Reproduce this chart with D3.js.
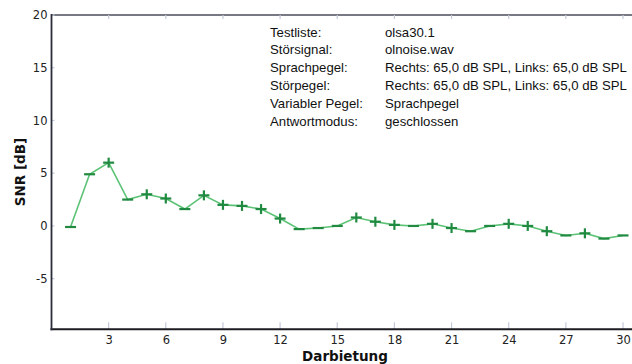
<!DOCTYPE html>
<html><head><meta charset="utf-8">
<script src="https://cdn.jsdelivr.net/npm/d3@7"></script>
<style>
html,body{margin:0;padding:0;background:#fff;}
svg{display:block;}
</style></head>
<body>
<script>
// Data
const trials = d3.range(1, 31);
const snr = [-0.1, 4.9, 6.0, 2.5, 3.0, 2.6, 1.6, 2.9, 2.0, 1.9,
             1.6, 0.7, -0.3, -0.2, 0.0, 0.8, 0.4, 0.1, 0.0, 0.2,
             -0.2, -0.5, 0.0, 0.2, 0.0, -0.5, -0.9, -0.7, -1.2, -0.9];
const marks = ["-","-","+","-","+","+","-","+","+","+",
               "+","+","-","-","-","+","+","+","-","+",
               "+","-","-","+","+","+","-","+","-","-"];
const xTicks = [3, 6, 9, 12, 15, 18, 21, 24, 27, 30];
const yTicks = [-5, 0, 5, 10, 15, 20];
const infoLabels = ["Testliste:", "Störsignal:", "Sprachpegel:", "Störpegel:", "Variabler Pegel:", "Antwortmodus:"];
const infoValues = ["olsa30.1", "olnoise.wav", "Rechts: 65,0 dB SPL, Links: 65,0 dB SPL",
                    "Rechts: 65,0 dB SPL, Links: 65,0 dB SPL", "Sprachpegel", "geschlossen"];
const xLabel = "Darbietung";
const yLabel = "SNR [dB]";

const W = 632, H = 364;
const svg = d3.select("body").append("svg").attr("width", W).attr("height", H);

const x = d3.scaleLinear().domain([0, 30]).range([51.5, 623]);
const y = d3.scaleLinear().domain([-9.8, 20]).range([329.3, 15]);

const tickFont = "DejaVu Sans, Verdana, sans-serif";
const fmt = d => String(d);

// top frame line
svg.append("line").attr("x1", x(0)).attr("x2", W + 5).attr("y1", y(20)).attr("y2", y(20))
  .attr("stroke", "#4a4e5a").attr("stroke-width", 1.6);
svg.selectAll(".tt").data(xTicks).enter().append("line")
  .attr("x1", d => x(d)).attr("x2", d => x(d)).attr("y1", y(20)).attr("y2", y(20) + 4)
  .attr("stroke", "#c4cadb").attr("stroke-width", 1.2);

// bottom axis
const xAxis = d3.axisBottom(x).tickValues(xTicks).tickFormat(fmt).tickSize(0).tickPadding(7);
const gx = svg.append("g").attr("transform", `translate(0,${y(-9.8)})`).call(xAxis);
gx.select(".domain").remove();
gx.selectAll("text").attr("font-family", tickFont).attr("font-size", 11.5).attr("fill", "#222");
svg.selectAll(".bt").data(xTicks).enter().append("line")
  .attr("x1", d => x(d)).attr("x2", d => x(d)).attr("y1", y(-9.8) - 7).attr("y2", y(-9.8))
  .attr("stroke", "#c4cadb").attr("stroke-width", 1.2);
svg.append("line").attr("x1", x(0) - 1).attr("x2", W + 5).attr("y1", y(-9.8)).attr("y2", y(-9.8))
  .attr("stroke", "#1c1c22").attr("stroke-width", 2);

// left axis
const yAxis = d3.axisLeft(y).tickValues(yTicks).tickFormat(fmt).tickSize(0).tickPadding(4);
const gy = svg.append("g").attr("transform", `translate(${x(0)},0)`).call(yAxis);
gy.select(".domain").remove();
gy.selectAll("text").attr("font-family", tickFont).attr("font-size", 11.5).attr("fill", "#222");
svg.selectAll(".lt").data(yTicks).enter().append("line")
  .attr("x1", x(0)).attr("x2", x(0) + 3).attr("y1", d => y(d)).attr("y2", d => y(d))
  .attr("stroke", "#c4cadb").attr("stroke-width", 1.2);
svg.append("line").attr("x1", x(0)).attr("x2", x(0)).attr("y1", y(20) - 1).attr("y2", y(-9.8) + 1)
  .attr("stroke", "#2a2e3a").attr("stroke-width", 1.8);

// axis labels
svg.append("text").attr("x", 345).attr("y", 361).attr("text-anchor", "middle")
  .attr("font-family", tickFont).attr("font-weight", "bold").attr("font-size", 13.5)
  .attr("fill", "#111").text(xLabel);
svg.append("text").attr("transform", `translate(25,172) rotate(-90)`).attr("text-anchor", "middle")
  .attr("font-family", tickFont).attr("font-weight", "bold").attr("font-size", 13.5)
  .attr("fill", "#111").text(yLabel);

// info block
const info = svg.append("g").attr("font-family", "Liberation Sans, Arial, sans-serif")
  .attr("font-size", 13.2).attr("fill", "#111");
infoLabels.forEach((t, i) => {
  info.append("text").attr("x", 270).attr("y", 36.5 + i * 17.8).text(t);
  info.append("text").attr("x", 385).attr("y", 36.5 + i * 17.8).text(infoValues[i]);
});

// line
const pts = trials.map((t, i) => ({t, v: snr[i], m: marks[i]}));
svg.append("path").datum(pts)
  .attr("d", d3.line().x(d => x(d.t)).y(d => y(d.v)))
  .attr("fill", "none").attr("stroke", "#5cc275").attr("stroke-width", 1.6);

// markers
const mk = svg.append("g").attr("stroke", "#1f8a40").attr("stroke-width", 2.2);
pts.forEach(d => {
  const cx = x(d.t), cy = y(d.v);
  mk.append("line").attr("x1", cx - 5.5).attr("x2", cx + 5.5).attr("y1", cy).attr("y2", cy);
  if (d.m === "+") {
    mk.append("line").attr("x1", cx).attr("x2", cx).attr("y1", cy - 5).attr("y2", cy + 5);
  }
});
</script>
</body></html>
